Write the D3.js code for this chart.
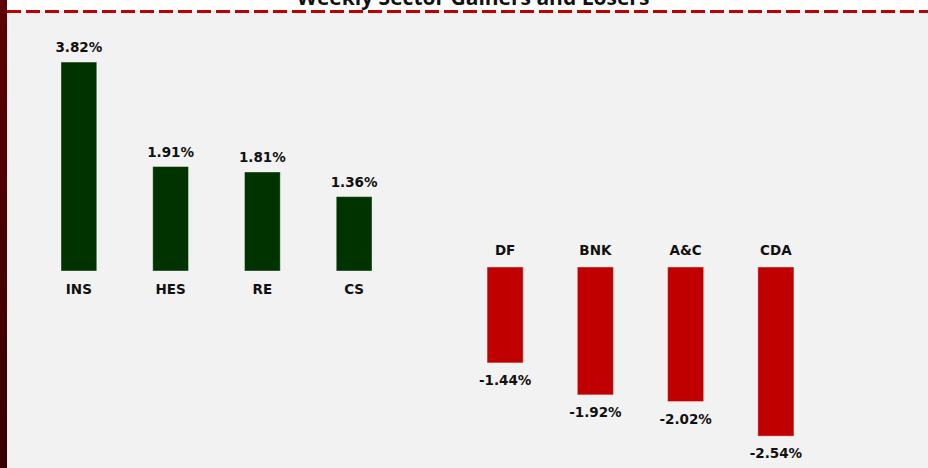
<!DOCTYPE html>
<html>
<head>
<meta charset="utf-8">
<script src="https://cdn.jsdelivr.net/npm/d3@7"></script>
<style>
  html, body { margin: 0; padding: 0; background: #fff; }
  svg { display: block; }
</style>
</head>
<body>
<div id="chart"></div>
<script>
// ── Data ─────────────────────────────────────────────
var titleText = "Weekly Sector Gainers and Losers";
var gainers = ["INS", "HES", "RE", "CS"];
var gainerValues = [3.82, 1.91, 1.81, 1.36];
var losers = ["DF", "BNK", "A&C", "CDA"];
var loserValues = [-1.44, -1.92, -2.02, -2.54];

var width = 928, height = 468;
var labelFont = "'DejaVu Sans', Verdana, sans-serif";

var svg = d3.select("#chart").append("svg")
  .attr("width", width)
  .attr("height", height);

// gradient for the left strip
var grad = svg.append("defs").append("linearGradient")
  .attr("id", "strip").attr("x1", 0).attr("y1", 0).attr("x2", 0).attr("y2", 1);
grad.append("stop").attr("offset", "0%").attr("stop-color", "#5e0000");
grad.append("stop").attr("offset", "100%").attr("stop-color", "#380000");

// background
svg.append("rect").attr("width", width).attr("height", height).attr("fill", "#ffffff");
svg.append("rect").attr("x", 0).attr("y", 11).attr("width", width).attr("height", height - 11)
  .attr("fill", "#f2f2f2");

// title, mostly cut off at the top (as in the source)
svg.append("text")
  .attr("x", 473).attr("y", 5)
  .attr("text-anchor", "middle")
  .attr("font-family", "'Open Sans', sans-serif")
  .attr("font-weight", 700)
  .attr("font-size", 21)
  .attr("fill", "#111")
  .text(titleText);

// dashed rule
svg.append("line")
  .attr("x1", 7).attr("x2", width).attr("y1", 11.5).attr("y2", 11.5)
  .attr("stroke", "#c00000").attr("stroke-width", 3)
  .attr("stroke-dasharray", "14,5");

svg.append("rect").attr("x", 0).attr("y", 0).attr("width", 7).attr("height", height)
  .attr("fill", "url(#strip)");

// ── Gainers ──────────────────────────────────────────
var xG = d3.scaleBand().domain(gainers).range([33, 400])
  .paddingInner(0.61).paddingOuter(0.305);
var yG = d3.scaleLinear().domain([0, 4]).range([271, 271 - 4 * 54.7]);

var gG = svg.append("g");
gG.selectAll("rect").data(gainers).join("rect")
  .attr("x", function (d) { return xG(d); })
  .attr("width", xG.bandwidth())
  .attr("y", function (d, i) { return yG(gainerValues[i]); })
  .attr("height", function (d, i) { return yG(0) - yG(gainerValues[i]); })
  .attr("fill", "#003300")
  .attr("stroke", "rgba(255,255,255,0.4)")
  .attr("stroke-width", 1);

gG.selectAll("text.val").data(gainers).join("text")
  .attr("class", "val")
  .attr("x", function (d) { return xG(d) + xG.bandwidth() / 2; })
  .attr("y", function (d, i) { return yG(gainerValues[i]) - 10; })
  .text(function (d, i) { return gainerValues[i].toFixed(2) + "%"; });

gG.selectAll("text.cat").data(gainers).join("text")
  .attr("class", "cat")
  .attr("x", function (d) { return xG(d) + xG.bandwidth() / 2; })
  .attr("y", yG(0) + 23)
  .text(function (d) { return d; });

// ── Losers ───────────────────────────────────────────
var xL = d3.scaleBand().domain(losers).range([460, 821])
  .paddingInner(0.6).paddingOuter(0.3);
var yL = d3.scaleLinear().domain([-3, 0]).range([267 + 3 * 66.6, 267]);

var gL = svg.append("g");
gL.selectAll("rect").data(losers).join("rect")
  .attr("x", function (d) { return xL(d); })
  .attr("width", xL.bandwidth())
  .attr("y", yL(0))
  .attr("height", function (d, i) { return yL(loserValues[i]) - yL(0); })
  .attr("fill", "#c00000")
  .attr("stroke", "rgba(255,255,255,0.4)")
  .attr("stroke-width", 1);

gL.selectAll("text.val").data(losers).join("text")
  .attr("class", "val")
  .attr("x", function (d) { return xL(d) + xL.bandwidth() / 2; })
  .attr("y", function (d, i) { return Math.min(yL(loserValues[i]) + 22, height - 3); })
  .text(function (d, i) { return loserValues[i].toFixed(2) + "%"; });

gL.selectAll("text.cat").data(losers).join("text")
  .attr("class", "cat")
  .attr("x", function (d) { return xL(d) + xL.bandwidth() / 2; })
  .attr("y", yL(0) - 12)
  .text(function (d) { return d; });

svg.selectAll("text.val, text.cat")
  .attr("text-anchor", "middle")
  .attr("font-family", labelFont)
  .attr("font-weight", 700)
  .attr("font-size", 13.5)
  .attr("fill", "#111");
</script>
</body>
</html>
